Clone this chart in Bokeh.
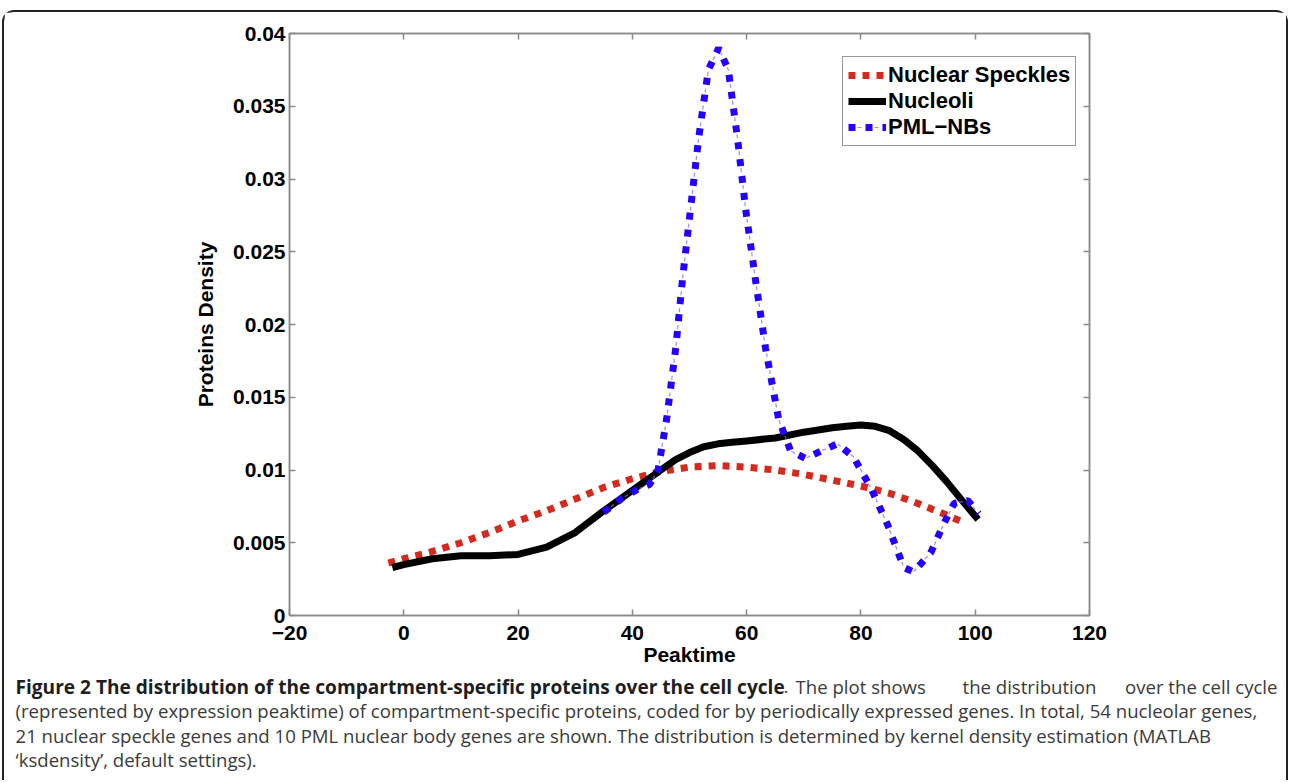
from bokeh.plotting import figure
from bokeh.models import (FixedTicker, LinearAxis, Legend, LegendItem, Range1d, Spacer)
from bokeh.layouts import column, row
from bokeh.core.properties import value
from bokeh.embed import file_html
from bokeh.resources import INLINE

# ---------------- data ----------------
speckles_x = [-2.7, 0, 5, 10, 15, 20, 25, 30, 35, 40, 45, 50, 55, 60, 65, 70, 75, 80, 85, 90, 95, 98]
speckles_y = [0.0036, 0.0039, 0.0044, 0.0050, 0.0057, 0.0065, 0.0072, 0.0080, 0.0088, 0.0094,
              0.0099, 0.0102, 0.0103, 0.0102, 0.0100, 0.0097, 0.0093, 0.0089, 0.0084, 0.0077,
              0.0069, 0.0064]

nucleoli_x = [-2, 0, 5, 10, 15, 20, 25, 30, 35, 40, 45, 47.5, 50, 52.5, 55, 57.5, 60, 65, 70,
              75, 77.5, 80, 82.5, 85, 87.5, 90, 92.5, 95, 97.5, 100.5]
nucleoli_y = [0.0033, 0.0035, 0.0039, 0.0041, 0.0041, 0.0042, 0.0047, 0.0057, 0.0072, 0.0086,
              0.0100, 0.0107, 0.0112, 0.0116, 0.0118, 0.0119, 0.0120, 0.0122, 0.0126,
              0.0129, 0.0130, 0.0131, 0.0130, 0.0127, 0.0121, 0.0113, 0.0103, 0.0092, 0.0080,
              0.0066]

pml_x = [35, 38, 41, 43, 44.5, 46, 47.6, 48.8, 50.2, 51.6, 53.3, 55.1, 56.8, 58.4, 59.8, 61.5,
         63.3, 65.6, 67.7, 70.3, 73, 75.9, 78.7, 81.7, 84.6, 87.5, 89.2, 92.2, 94.5, 96.3,
         98.7, 100.6]
pml_y = [0.0071, 0.0080, 0.0087, 0.0090, 0.0100, 0.0135, 0.0184, 0.0232, 0.0280, 0.0328,
         0.0375, 0.0390, 0.0375, 0.0328, 0.0280, 0.0232, 0.0184, 0.0135, 0.0113, 0.0108,
         0.0113, 0.0118, 0.0109, 0.0088, 0.0063, 0.0033, 0.0030, 0.0043, 0.0063, 0.0077,
         0.0079, 0.0070]

series_names = ["Nuclear Speckles", "Nucleoli", "PML\u2212NBs"]

x_ticks = [-20, 0, 20, 40, 60, 80, 100, 120]
x_tick_labels = ["\u221220", "0", "20", "40", "60", "80", "100", "120"]
y_ticks = [0, 0.005, 0.01, 0.015, 0.02, 0.025, 0.03, 0.035, 0.04]
y_tick_labels = ["0", "0.005", "0.01", "0.015", "0.02", "0.025", "0.03", "0.035", "0.04"]

x_label = "Peaktime"
y_label = "Proteins Density"

# caption pieces: (text, weight, anchor x, align)
caption_lines = [
    [("Figure 2 The distribution of the compartment-specific proteins over the cell cycle", "bold", 11, "left"),
     (".", "normal", 779, "left"),
     ("The plot shows", "normal", 791, "left"),
     ("the distribution", "normal", 958, "left"),
     ("over the cell cycle", "normal", 1273, "right")],
    [("(represented by expression peaktime) of compartment-specific proteins, coded for by "
      "periodically expressed genes. In total, 54 nucleolar genes,", "normal", 11, "left")],
    [("21 nuclear speckle genes and 10 PML nuclear body genes are shown. The distribution is "
      "determined by kernel density estimation (MATLAB", "normal", 11, "left")],
    [("\u2018ksdensity\u2019, default settings).", "normal", 11, "left")],
]

# ---------------- main chart ----------------
W = 1282
H1 = 660
p = figure(width=W, height=H1, output_backend="svg", toolbar_location=None,
           x_range=Range1d(-20, 120), y_range=Range1d(0, 0.04),
           min_border_left=285, min_border_right=197, min_border_top=21, min_border_bottom=57)
p.frame_align = False
p.background_fill_color = "white"
p.border_fill_color = "white"
p.outline_line_color = "#8a8a8a"
p.outline_line_width = 1.5
p.grid.visible = False

AX_FONT = "Liberation Sans"
axis_col = "#8a8a8a"

for ax in (p.xaxis[0], p.yaxis[0]):
    ax.axis_line_color = axis_col
    ax.axis_line_width = 1.5
    ax.major_tick_line_color = axis_col
    ax.major_tick_line_width = 1.5
    ax.major_tick_in = 6
    ax.major_tick_out = 0
    ax.minor_tick_line_color = None
    ax.major_label_text_font = AX_FONT
    ax.major_label_text_font_style = "bold"
    ax.major_label_text_font_size = "21px"
    ax.major_label_text_color = "black"
    ax.axis_label_text_font = AX_FONT
    ax.axis_label_text_font_style = "bold"
    ax.axis_label_text_font_size = "21px"
    ax.axis_label_text_color = "black"

p.xaxis[0].ticker = FixedTicker(ticks=x_ticks)
p.xaxis[0].major_label_overrides = dict(zip(x_ticks, x_tick_labels))
p.xaxis[0].major_label_standoff = 10
p.xaxis[0].axis_label = x_label
p.xaxis[0].axis_label_standoff = 0

p.yaxis[0].ticker = FixedTicker(ticks=y_ticks)
p.yaxis[0].major_label_overrides = dict(zip(y_ticks, y_tick_labels))
p.yaxis[0].major_label_standoff = 4
p.yaxis[0].axis_label = y_label
p.yaxis[0].axis_label_standoff = 13

top_ax = LinearAxis(ticker=FixedTicker(ticks=x_ticks),
                    major_label_overrides={t: "" for t in x_ticks},
                    axis_line_color=axis_col, axis_line_width=1.5,
                    major_tick_line_color=axis_col, major_tick_line_width=1.5,
                    major_tick_in=6, major_tick_out=0, minor_tick_line_color=None,
                    major_label_standoff=0)
right_ax = LinearAxis(ticker=FixedTicker(ticks=y_ticks),
                      major_label_overrides={t: "" for t in y_ticks},
                      axis_line_color=axis_col, axis_line_width=1.5,
                      major_tick_line_color=axis_col, major_tick_line_width=1.5,
                      major_tick_in=6, major_tick_out=0, minor_tick_line_color=None,
                      major_label_standoff=0)
p.add_layout(top_ax, "above")
p.add_layout(right_ax, "right")

red = "#d52b1e"
blue = "#2400ff"

r_spk = p.line(speckles_x, speckles_y, line_color=red, line_width=7, line_dash="7 7",
               line_cap="butt")
r_nuc = p.line(nucleoli_x, nucleoli_y, line_color="black", line_width=7, line_join="round")
r_pml = p.line(pml_x, pml_y, line_color=blue, line_width=7, line_dash="7 10",
               line_cap="butt")
r_pml_thin = p.line(pml_x, pml_y, line_color="#7a70ff", line_width=1.2,
                    line_dash="0 9 4 4", line_alpha=0.8)

legend = Legend(items=[LegendItem(label=series_names[0], renderers=[r_spk]),
                       LegendItem(label=series_names[1], renderers=[r_nuc]),
                       LegendItem(label=series_names[2], renderers=[r_pml, r_pml_thin])],
                location=(553, 469))
legend.label_text_font = AX_FONT
legend.label_text_font_style = "bold"
legend.label_text_font_size = "22px"
legend.label_text_color = "black"
legend.glyph_width = 38
legend.glyph_height = 24
legend.label_standoff = 2
legend.label_height = 24
legend.spacing = 0
legend.padding = 5
legend.margin = 0
legend.border_line_color = "#333333"
legend.border_line_width = 1.2
legend.background_fill_alpha = 1
p.add_layout(legend, "center")

# ---------------- caption panel ----------------
H2 = 108
cap = figure(width=W, height=H2, output_backend="svg", toolbar_location=None,
             x_range=Range1d(0, W), y_range=Range1d(0, H2), min_border=0,
             x_axis_location=None, y_axis_location=None)
cap.frame_align = False
cap.grid.visible = False
cap.outline_line_color = None
cap.background_fill_color = "white"
cap.border_fill_color = "white"

line_y = [94, 70, 45, 21]
for yy, parts in zip(line_y, caption_lines):
    for txt, weight, xx, align in parts:
        cap.text(x=[xx], y=[yy], text=[txt],
                 text_font=value("Open Sans"),
                 text_font_size="19.1px" if weight == "bold" else "18.6px",
                 text_font_style=weight, text_align=align, text_baseline="middle",
                 text_color="#1e1e1e" if weight == "bold" else "#3a3a3a")

framed = column(p, cap, styles={"border": "2px solid #222222", "border-bottom": "none",
                                "border-radius": "12px 12px 0 0"})
layout = column(Spacer(height=10), row(Spacer(width=2), framed))

open("out.html", "w").write(file_html(layout, INLINE))
